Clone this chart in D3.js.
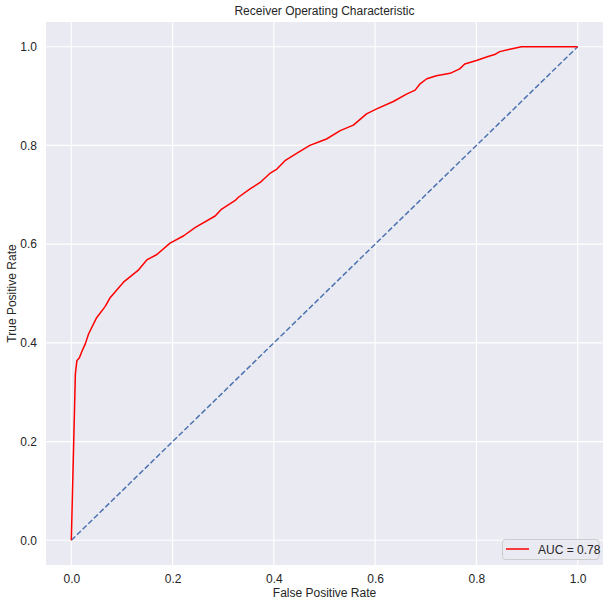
<!DOCTYPE html>
<html>
<head>
<meta charset="utf-8">
<script src="https://cdn.jsdelivr.net/npm/d3@7"></script>
<style>
  html, body { margin: 0; padding: 0; background: #ffffff; }
  svg text { font-family: "Liberation Sans", Arial, sans-serif; fill: #262626; }
</style>
</head>
<body>
<svg id="chart" width="611" height="605"></svg>
<script>
// ---- data ----
const fpr = [0, 0.008, 0.011, 0.016, 0.021, 0.028, 0.034, 0.050, 0.067, 0.077, 0.103, 0.133, 0.149, 0.169, 0.195,
  0.222, 0.245, 0.284, 0.297, 0.323, 0.330, 0.353, 0.373, 0.393, 0.406, 0.422, 0.445, 0.471, 0.491, 0.504,
  0.531, 0.557, 0.583, 0.603, 0.636, 0.662, 0.679, 0.688, 0.702, 0.721, 0.748, 0.767, 0.777, 0.800, 0.823,
  0.836, 0.846, 0.866, 0.889, 1.0];
const tpr = [0, 0.337, 0.364, 0.370, 0.383, 0.399, 0.418, 0.451, 0.474, 0.492, 0.523, 0.548, 0.568, 0.579, 0.602,
  0.617, 0.634, 0.657, 0.671, 0.688, 0.695, 0.712, 0.725, 0.744, 0.752, 0.769, 0.784, 0.800, 0.808, 0.813,
  0.830, 0.841, 0.864, 0.874, 0.889, 0.904, 0.912, 0.924, 0.935, 0.941, 0.946, 0.955, 0.965, 0.972, 0.980,
  0.984, 0.990, 0.995, 1.0, 1.0];
const diagX = [0, 1];
const diagY = [0, 1];
const tickValues = [0, 0.2, 0.4, 0.6, 0.8, 1.0];
const aucLabel = "AUC = 0.78";
const titleText = "Receiver Operating Characteristic";
const xLabel = "False Positive Rate";
const yLabel = "True Positive Rate";

// ---- layout ----
const L = 46, R = 603, T = 22, B = 565;
const svg = d3.select("#chart");
const x = d3.scaleLinear().domain([-0.05, 1.05]).range([L, R]);
const y = d3.scaleLinear().domain([-0.05, 1.05]).range([B, T]);

svg.append("rect").attr("x", L).attr("y", T).attr("width", R - L).attr("height", B - T).attr("fill", "#eaeaf2");

// grid
const g = svg.append("g");
g.selectAll(".vg").data(tickValues).enter().append("line")
  .attr("x1", d => x(d)).attr("x2", d => x(d)).attr("y1", T).attr("y2", B)
  .attr("stroke", "#ffffff").attr("stroke-width", 1.1);
g.selectAll(".hg").data(tickValues).enter().append("line")
  .attr("y1", d => y(d)).attr("y2", d => y(d)).attr("x1", L).attr("x2", R)
  .attr("stroke", "#ffffff").attr("stroke-width", 1.1);

// axes (labels only)
const xAxis = d3.axisBottom(x).tickValues(tickValues).tickFormat(d3.format(".1f")).tickSize(0).tickPadding(9);
const yAxis = d3.axisLeft(y).tickValues(tickValues).tickFormat(d3.format(".1f")).tickSize(0).tickPadding(9);
const gx = svg.append("g").attr("transform", `translate(0,${B})`).call(xAxis);
const gy = svg.append("g").attr("transform", `translate(${L},0)`).call(yAxis);
[gx, gy].forEach(a => {
  a.select(".domain").remove();
  a.selectAll("text").style("font-size", "12px").style("font-family", '"Liberation Sans", Arial, sans-serif').attr("fill", "#262626");
});

// diagonal
const line = d3.line().x(d => x(d[0])).y(d => y(d[1]));
svg.append("path").datum(diagX.map((v, i) => [v, diagY[i]]))
  .attr("d", line).attr("fill", "none").attr("stroke", "#4c72b0")
  .attr("stroke-width", 1.5).attr("stroke-dasharray", "5.5,2.4");

// ROC
svg.append("path").datum(fpr.map((v, i) => [v, tpr[i]]))
  .attr("d", line).attr("fill", "none").attr("stroke", "#ff0000")
  .attr("stroke-width", 1.5).attr("stroke-linejoin", "round");

// title & labels
svg.append("text").attr("x", (L + R) / 2).attr("y", 15).attr("text-anchor", "middle")
  .style("font-size", "12px").text(titleText);
svg.append("text").attr("x", (L + R) / 2).attr("y", 597).attr("text-anchor", "middle")
  .style("font-size", "12px").text(xLabel);
svg.append("text").attr("transform", `translate(16,${(T + B) / 2}) rotate(-90)`).attr("text-anchor", "middle")
  .style("font-size", "12px").text(yLabel);

// legend
const lg = svg.append("g");
lg.append("rect").attr("x", 502.5).attr("y", 539.5).attr("width", 96.5).attr("height", 20).attr("rx", 3)
  .attr("fill", "#eaeaf2").attr("fill-opacity", 0.8).attr("stroke", "#cccccc").attr("stroke-width", 1);
lg.append("line").attr("x1", 506).attr("x2", 529).attr("y1", 549).attr("y2", 549)
  .attr("stroke", "#ff0000").attr("stroke-width", 1.5);
lg.append("text").attr("x", 538).attr("y", 553.5).style("font-size", "12px").text(aucLabel);
</script>
</body>
</html>
